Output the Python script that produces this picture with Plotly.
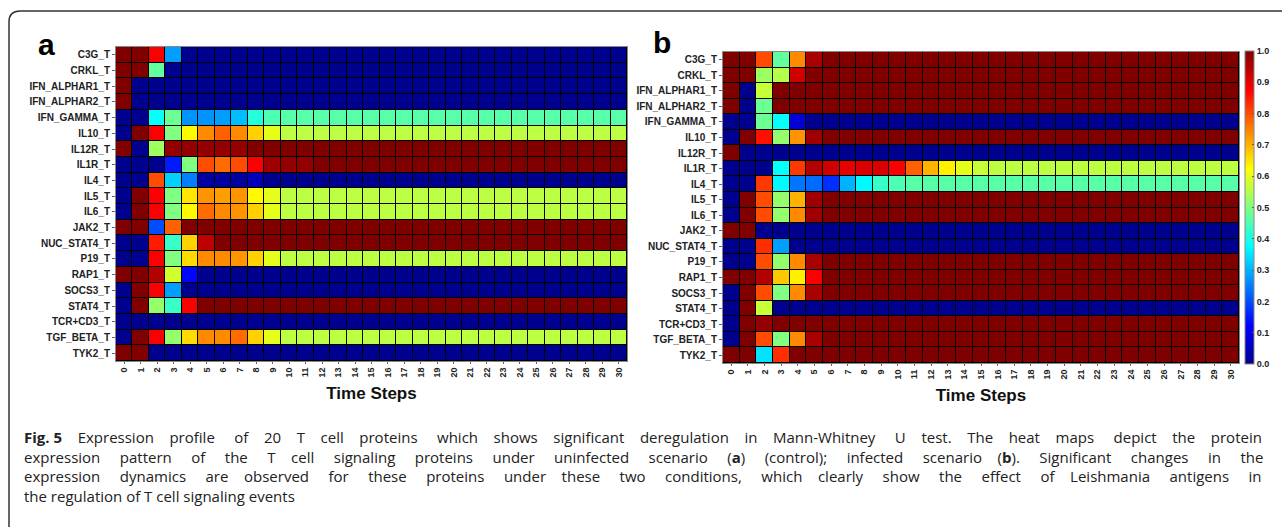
import plotly.graph_objects as go

proteins = ["C3G_T", "CRKL_T", "IFN_ALPHAR1_T", "IFN_ALPHAR2_T", "IFN_GAMMA_T", "IL10_T",
            "IL12R_T", "IL1R_T", "IL4_T", "IL5_T", "IL6_T", "JAK2_T", "NUC_STAT4_T", "P19_T",
            "RAP1_T", "SOCS3_T", "STAT4_T", "TCR+CD3_T", "TGF_BETA_T", "TYK2_T"]
time_steps = [0, 1, 2, 3, 4, 5, 6, 7, 8, 9, 10, 11, 12, 13, 14, 15, 16, 17, 18, 19, 20,
              21, 22, 23, 24, 25, 26, 27, 28, 29, 30]
time_labels = ["0", "1", "2", "3", "4", "5", "6", "7", "8", "9", "10", "11", "12", "13", "14",
               "15", "16", "17", "18", "19", "20", "21", "22", "23", "24", "25", "26", "27",
               "28", "29", "30"]
cbar_vals = [0.0, 0.1, 0.2, 0.3, 0.4, 0.5, 0.6, 0.7, 0.8, 0.9, 1.0]
cbar_text = ["0.0", "0.1", "0.2", "0.3", "0.4", "0.5", "0.6", "0.7", "0.8", "0.9", "1.0"]

# Panel a (uninfected / control)
a_C3G = [1, 1, .88, .28, 0, 0, 0, 0, 0, 0, 0, 0, 0, 0, 0, 0, 0, 0, 0, 0, 0, 0, 0, 0, 0, 0, 0, 0, 0, 0, 0]
a_CRKL = [1, 1, .47, 0, 0, 0, 0, 0, 0, 0, 0, 0, 0, 0, 0, 0, 0, 0, 0, 0, 0, 0, 0, 0, 0, 0, 0, 0, 0, 0, 0]
a_IFNA1 = [1, 0, 0, 0, 0, 0, 0, 0, 0, 0, 0, 0, 0, 0, 0, 0, 0, 0, 0, 0, 0, 0, 0, 0, 0, 0, 0, 0, 0, 0, 0]
a_IFNA2 = [1, 0, 0, 0, 0, 0, 0, 0, 0, 0, 0, 0, 0, 0, 0, 0, 0, 0, 0, 0, 0, 0, 0, 0, 0, 0, 0, 0, 0, 0, 0]
a_IFNG = [0, 0, .38, .48, .27, .27, .28, .31, .41, .45, .46, .46, .46, .46, .46, .46, .46, .46, .46, .46,
          .46, .46, .46, .46, .46, .46, .46, .46, .46, .46, .46]
a_IL10 = [0, 1, .88, .5, .63, .74, .78, .74, .67, .6, .56, .56, .56, .56, .56, .56, .56, .56, .56, .56,
          .56, .56, .56, .56, .56, .56, .56, .56, .56, .56, .56]
a_IL12R = [1, 0, .53, .98, .98, .98, .98, .98, 1, 1, 1, 1, 1, 1, 1, 1, 1, 1, 1, 1, 1, 1, 1, 1, 1, 1, 1, 1, 1, 1, 1]
a_IL1R = [0, 0, 0, .15, .5, .8, .77, .8, .88, .97, .98, .98, 1, 1, 1, 1, 1, 1, 1, 1, 1, 1, 1, 1, 1, 1, 1, 1, 1, 1, 1]
a_IL4 = [0, 0, .8, .33, .25, .02, .02, .02, .05, 0, 0, 0, 0, 0, 0, 0, 0, 0, 0, 0, 0, 0, 0, 0, 0, 0, 0, 0, 0, 0, 0]
a_IL5 = [0, 1, .88, .5, .65, .73, .72, .73, .63, .6, .56, .56, .56, .56, .56, .56, .56, .56, .56, .56,
         .56, .56, .56, .56, .56, .56, .56, .56, .56, .56, .56]
a_IL6 = [0, 1, .88, .5, .63, .77, .74, .73, .67, .6, .56, .56, .56, .56, .56, .56, .56, .56, .56, .56,
         .56, .56, .56, .56, .56, .56, .56, .56, .56, .56, .56]
a_JAK2 = [1, 1, .2, .78, 1, 1, 1, 1, 1, 1, 1, 1, 1, 1, 1, 1, 1, 1, 1, 1, 1, 1, 1, 1, 1, 1, 1, 1, 1, 1, 1]
a_NUC = [0, 0, .85, .43, .67, .94, 1, 1, 1, 1, 1, 1, 1, 1, 1, 1, 1, 1, 1, 1, 1, 1, 1, 1, 1, 1, 1, 1, 1, 1, 1]
a_P19 = [0, 0, .88, .5, .66, .74, .74, .73, .67, .6, .56, .56, .56, .56, .56, .56, .56, .56, .56, .56,
         .56, .56, .56, .56, .56, .56, .56, .56, .56, .56, .56]
a_RAP1 = [1, 1, .95, .58, .13, 0, 0, 0, 0, 0, 0, 0, 0, 0, 0, 0, 0, 0, 0, 0, 0, 0, 0, 0, 0, 0, 0, 0, 0, 0, 0]
a_SOCS3 = [0, 1, .88, .28, 0, 0, 0, 0, 0, 0, 0, 0, 0, 0, 0, 0, 0, 0, 0, 0, 0, 0, 0, 0, 0, 0, 0, 0, 0, 0, 0]
a_STAT4 = [0, 1, .52, .43, .88, 1, 1, 1, 1, 1, 1, 1, 1, 1, 1, 1, 1, 1, 1, 1, 1, 1, 1, 1, 1, 1, 1, 1, 1, 1, 1]
a_TCR = [0, 0, 0, 0, 0, 0, 0, 0, 0, 0, 0, 0, 0, 0, 0, 0, 0, 0, 0, 0, 0, 0, 0, 0, 0, 0, 0, 0, 0, 0, 0]
a_TGF = [0, 1, .88, .52, .66, .74, .74, .77, .67, .6, .56, .56, .56, .56, .56, .56, .56, .56, .56, .56,
         .56, .56, .56, .56, .56, .56, .56, .56, .56, .56, .56]
a_TYK2 = [1, 1, 0, 0, 0, 0, 0, 0, 0, 0, 0, 0, 0, 0, 0, 0, 0, 0, 0, 0, 0, 0, 0, 0, 0, 0, 0, 0, 0, 0, 0]

# Panel b (infected)
b_C3G = [1, 1, .8, .47, .74, .96, 1, 1, 1, 1, 1, 1, 1, 1, 1, 1, 1, 1, 1, 1, 1, 1, 1, 1, 1, 1, 1, 1, 1, 1, 1]
b_CRKL = [1, 1, .53, .55, .92, 1, 1, 1, 1, 1, 1, 1, 1, 1, 1, 1, 1, 1, 1, 1, 1, 1, 1, 1, 1, 1, 1, 1, 1, 1, 1]
b_IFNA1 = [1, 0, .57, 1, 1, 1, 1, 1, 1, 1, 1, 1, 1, 1, 1, 1, 1, 1, 1, 1, 1, 1, 1, 1, 1, 1, 1, 1, 1, 1, 1]
b_IFNA2 = [1, 0, .48, 1, 1, 1, 1, 1, 1, 1, 1, 1, 1, 1, 1, 1, 1, 1, 1, 1, 1, 1, 1, 1, 1, 1, 1, 1, 1, 1, 1]
b_IFNG = [0, 0, .48, .38, .08, 0, 0, 0, 0, 0, 0, 0, 0, 0, 0, 0, 0, 0, 0, 0, 0, 0, 0, 0, 0, 0, 0, 0, 0, 0, 0]
b_IL10 = [0, 1, .86, .52, .73, .97, 1, 1, 1, 1, 1, 1, 1, 1, 1, 1, 1, 1, 1, 1, 1, 1, 1, 1, 1, 1, 1, 1, 1, 1, 1]
b_IL12R = [1, 0, 0, 0, 0, 0, 0, 0, 0, 0, 0, 0, 0, 0, 0, 0, 0, 0, 0, 0, 0, 0, 0, 0, 0, 0, 0, 0, 0, 0, 0]
b_IL1R = [0, 0, 0, .38, .82, .95, .92, .9, .91, .91, .88, .78, .7, .64, .6, .57, .56, .56, .56, .56,
          .56, .56, .56, .56, .56, .56, .56, .56, .56, .56, .56]
b_IL4 = [0, 0, .82, .37, .24, .23, .17, .3, .37, .43, .45, .46, .46, .46, .46, .46, .46, .46, .46, .46,
         .46, .46, .46, .46, .46, .46, .46, .46, .46, .46, .46]
b_IL5 = [0, 1, .8, .52, .7, .97, 1, 1, 1, 1, 1, 1, 1, 1, 1, 1, 1, 1, 1, 1, 1, 1, 1, 1, 1, 1, 1, 1, 1, 1, 1]
b_IL6 = [0, 1, .8, .52, .74, .97, 1, 1, 1, 1, 1, 1, 1, 1, 1, 1, 1, 1, 1, 1, 1, 1, 1, 1, 1, 1, 1, 1, 1, 1, 1]
b_JAK2 = [1, 1, 0, 0, 0, 0, 0, 0, 0, 0, 0, 0, 0, 0, 0, 0, 0, 0, 0, 0, 0, 0, 0, 0, 0, 0, 0, 0, 0, 0, 0]
b_NUC = [0, 0, .83, .28, 0, 0, 0, 0, 0, 0, 0, 0, 0, 0, 0, 0, 0, 0, 0, 0, 0, 0, 0, 0, 0, 0, 0, 0, 0, 0, 0]
b_P19 = [0, 0, .8, .52, .74, .96, 1, 1, 1, 1, 1, 1, 1, 1, 1, 1, 1, 1, 1, 1, 1, 1, 1, 1, 1, 1, 1, 1, 1, 1, 1]
b_RAP1 = [1, 1, .95, .68, .64, .88, 1, 1, 1, 1, 1, 1, 1, 1, 1, 1, 1, 1, 1, 1, 1, 1, 1, 1, 1, 1, 1, 1, 1, 1, 1]
b_SOCS3 = [0, 1, .8, .5, .74, .96, 1, 1, 1, 1, 1, 1, 1, 1, 1, 1, 1, 1, 1, 1, 1, 1, 1, 1, 1, 1, 1, 1, 1, 1, 1]
b_STAT4 = [0, 1, .57, 0, 0, 0, 0, 0, 0, 0, 0, 0, 0, 0, 0, 0, 0, 0, 0, 0, 0, 0, 0, 0, 0, 0, 0, 0, 0, 0, 0]
b_TCR = [0, 1, .98, 1, 1, 1, 1, 1, 1, 1, 1, 1, 1, 1, 1, 1, 1, 1, 1, 1, 1, 1, 1, 1, 1, 1, 1, 1, 1, 1, 1]
b_TGF = [0, 1, .8, .5, .74, .96, 1, 1, 1, 1, 1, 1, 1, 1, 1, 1, 1, 1, 1, 1, 1, 1, 1, 1, 1, 1, 1, 1, 1, 1, 1]
b_TYK2 = [1, 1, .35, .83, 1, 1, 1, 1, 1, 1, 1, 1, 1, 1, 1, 1, 1, 1, 1, 1, 1, 1, 1, 1, 1, 1, 1, 1, 1, 1, 1]

panel_a = [a_C3G, a_CRKL, a_IFNA1, a_IFNA2, a_IFNG, a_IL10, a_IL12R, a_IL1R, a_IL4, a_IL5,
           a_IL6, a_JAK2, a_NUC, a_P19, a_RAP1, a_SOCS3, a_STAT4, a_TCR, a_TGF, a_TYK2]
panel_b = [b_C3G, b_CRKL, b_IFNA1, b_IFNA2, b_IFNG, b_IL10, b_IL12R, b_IL1R, b_IL4, b_IL5,
           b_IL6, b_JAK2, b_NUC, b_P19, b_RAP1, b_SOCS3, b_STAT4, b_TCR, b_TGF, b_TYK2]

caption_lines = [
    "<b>Fig.&nbsp;5</b> Expression profile of 20 T cell proteins which shows significant deregulation in Mann-Whitney U test. The heat maps depict the protein",
    "expression pattern of the T cell signaling proteins under uninfected scenario (<b>a</b>) (control); infected scenario (<b>b</b>). Significant changes in the",
    "expression dynamics are observed for these proteins under these two conditions, which clearly show the effect of Leishmania antigens in",
    "the regulation of T cell signaling events",
]
# extra spaces added to emulate the justified caption (last line is not justified)
caption_extra_spaces = [67, 74, 72, 0]

jet = [[0.0, "rgb(0,0,143)"], [0.125, "rgb(0,0,255)"], [0.375, "rgb(0,255,255)"],
       [0.625, "rgb(255,255,0)"], [0.875, "rgb(255,0,0)"], [1.0, "rgb(128,0,0)"]]

W, H = 1282, 527
def px(x):
    return x / W
def py(y):
    return 1 - y / H

def justify(line, extra):
    words = line.split(" ")
    gaps = len(words) - 1
    out = words[0]
    done = 0
    for i in range(1, len(words)):
        target = round(extra * i / gaps)
        k = target - done
        done = target
        out += " " + "&nbsp;" * k + words[i]
    return out

LAB = "Liberation Sans, Arial, sans-serif"

fig = go.Figure()
fig.add_trace(go.Heatmap(z=panel_a, x=time_steps, y=proteins, xaxis="x", yaxis="y",
                         colorscale=jet, zmin=0, zmax=1, showscale=False, xgap=1, ygap=1))
fig.add_trace(go.Heatmap(z=panel_b, x=time_steps, y=proteins, xaxis="x2", yaxis="y2",
                         colorscale=jet, zmin=0, zmax=1, showscale=True, xgap=1, ygap=1,
                         colorbar=dict(x=px(1245), xanchor="left", xpad=0, ypad=0,
                                       y=py(51), yanchor="top", len=(364 - 51) / H, lenmode="fraction",
                                       thickness=9, outlinecolor="#888", outlinewidth=1,
                                       tickmode="array", tickvals=cbar_vals, ticktext=cbar_text,
                                       ticks="inside", ticklen=2, tickcolor="#555",
                                       tickfont=dict(family=LAB, size=9, color="#222", weight="bold"))))

xcommon = dict(tickmode="array", tickvals=time_steps, ticktext=time_labels, tickangle=-90,
               range=[-0.5, 30.5], showgrid=False, zeroline=False, ticks="outside", ticklen=2,
               tickcolor="#666", showline=True, mirror=True, linecolor="#888", linewidth=1,
               tickfont=dict(family=LAB, size=9, color="#222", weight="bold"),
               title=dict(text="Time Steps", font=dict(family=LAB, size=17, color="#111", weight="bold"),
                          standoff=10))
ycommon = dict(autorange="reversed", showgrid=False, zeroline=False, ticks="outside", ticklen=3,
               tickcolor="#666", showline=True, mirror=True, linecolor="#888", linewidth=1,
               tickfont=dict(family=LAB, size=10, color="#222", weight="bold"))

fig.update_layout(
    width=W, height=H, margin=dict(l=0, r=0, t=0, b=0),
    paper_bgcolor="white", plot_bgcolor="black",
    xaxis=dict(domain=[px(116), px(627)], anchor="y", **xcommon),
    yaxis=dict(domain=[py(361), py(47)], anchor="x", **ycommon),
    xaxis2=dict(domain=[px(723), px(1239)], anchor="y2", **xcommon),
    yaxis2=dict(domain=[py(363), py(52)], anchor="x2", **ycommon),
)

annos = [
    dict(text="<b>a</b>", x=px(36), y=py(44), xanchor="left", yanchor="middle",
         font=dict(family=LAB, size=30, color="black")),
    dict(text="<b>b</b>", x=px(651), y=py(42), xanchor="left", yanchor="middle",
         font=dict(family=LAB, size=30, color="black")),
]
line_y = [437, 457, 476, 496]
for txt, extra, yy in zip(caption_lines, caption_extra_spaces, line_y):
    annos.append(dict(text=justify(txt, extra), x=px(22), y=py(yy), xanchor="left", yanchor="middle",
                      font=dict(family="Open Sans, sans-serif", size=15, color="#222")))
for a in annos:
    a.update(xref="paper", yref="paper", showarrow=False)
fig.update_layout(annotations=annos)

fig.add_shape(type="path", xref="paper", yref="paper",
              path=f"M {px(9)},{py(527)} L {px(9)},{py(22)} Q {px(9)},{py(11)} {px(20)},{py(11)} L {px(1282)},{py(11)}",
              line=dict(color="#333", width=1.5))

fig.write_html("out.html")
